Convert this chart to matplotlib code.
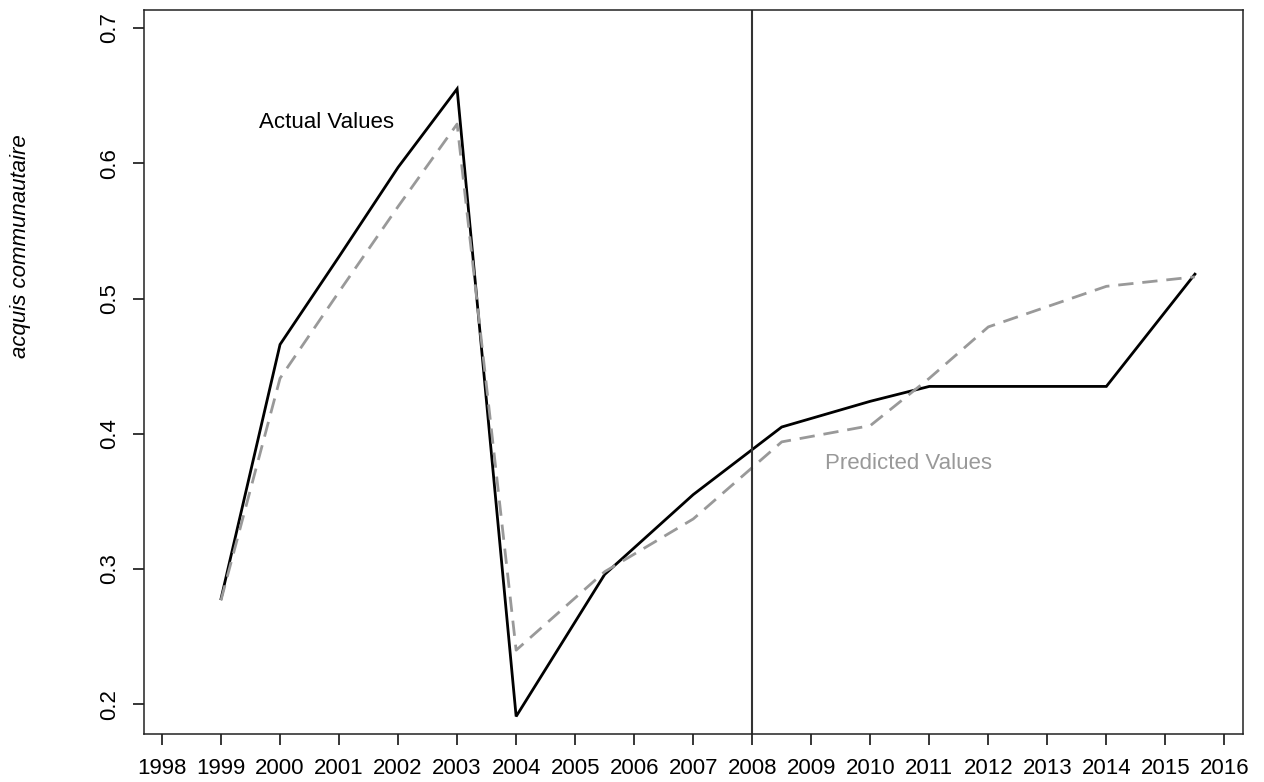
import matplotlib
matplotlib.use("Agg")
import matplotlib.pyplot as plt

plt.rcParams["font.family"] = ["Liberation Sans", "DejaVu Sans"]

# values
years = [1999, 2000, 2001, 2002, 2003, 2004, 2005.5, 2007, 2008.5, 2010, 2011, 2012, 2013, 2014, 2015.5]
actual = [0.278, 0.466, 0.531, 0.597, 0.655, 0.191, 0.296, 0.355, 0.405, 0.424, 0.435, 0.435, 0.435, 0.435, 0.518]
predicted = [0.277, 0.441, 0.505, 0.568, 0.629, 0.240, 0.298, 0.337, 0.394, 0.406, 0.441, 0.479, 0.494, 0.509, 0.516]

x_ticks = list(range(1998, 2017))
y_ticks = [0.2, 0.3, 0.4, 0.5, 0.6, 0.7]
cutoff_year = 2008

fig = plt.figure(figsize=(12.64, 7.82), dpi=100)
ax = fig.add_axes([144 / 1264, 1 - 734.3 / 782, (1242.7 - 144) / 1264, (734.3 - 10) / 782])

ax.plot(years, actual, color="black", lw=2.0, solid_joinstyle="miter")
ax.plot(years, predicted, color="#999999", lw=2.0, dashes=(5.5, 3.2))
ax.axvline(cutoff_year, color="#333333", lw=1.5)

ax.text(2000.79, 0.630, "Actual Values", color="black", fontsize=16, ha="center", va="center")
ax.text(2010.65, 0.378, "Predicted Values", color="#999999", fontsize=16, ha="center", va="center")

ax.set_xlim(1997.695, 2016.31)
ax.set_ylim(0.1778, 0.7133)
ax.set_xticks(x_ticks)
ax.set_xticklabels([str(y) for y in x_ticks])
ax.set_yticks(y_ticks)
ax.set_yticklabels([f"{v:.1f}" for v in y_ticks])

ax.tick_params(axis="both", direction="out", length=8, width=1.1, labelsize=16, pad=9)
ax.tick_params(axis="y", labelrotation=90)
for lab in ax.get_yticklabels():
    lab.set_va("center")

for sp in ax.spines.values():
    sp.set_linewidth(1.1)
    sp.set_color("#222222")

fig.text(21 / 1264, 1 - 246 / 782, "acquis communautaire", rotation=90,
         fontsize=16, style="italic", ha="center", va="center")

fig.savefig("out.png", dpi=100)
